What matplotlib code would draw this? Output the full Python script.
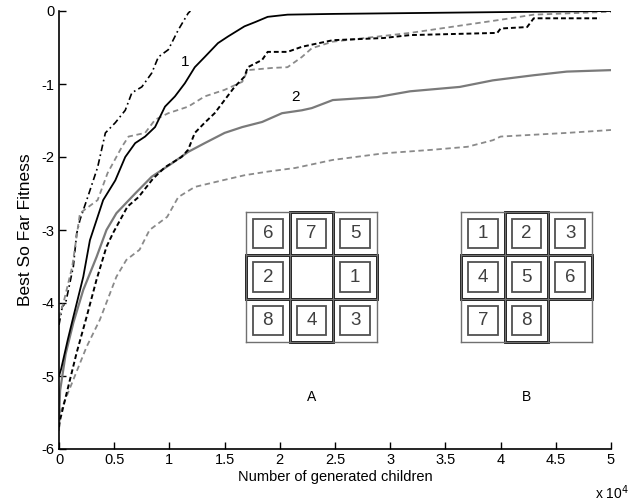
import matplotlib
matplotlib.use("Agg")
import matplotlib.pyplot as plt
from matplotlib.patches import Rectangle

plt.rcParams['font.family'] = ['Liberation Sans', 'DejaVu Sans']
plt.rcParams['axes.unicode_minus'] = False

# ---- data (x in units of 1e4 generated children) ----
dd_x = [0, 0.03, 0.06, 0.13, 0.16, 0.19, 0.26, 0.35, 0.42, 0.51, 0.6, 0.66, 0.75, 0.84, 0.9, 0.99, 1.08, 1.17, 1.19]
dd_y = [-4.3, -4.05, -4.0, -3.5, -3.05, -2.86, -2.55, -2.14, -1.67, -1.53, -1.36, -1.12, -1.04, -0.85, -0.63, -0.53, -0.26, -0.03, 0.0]

s1_x = [0, 0.02, 0.08, 0.13, 0.22, 0.28, 0.40, 0.51, 0.6, 0.69, 0.78, 0.87, 0.96, 1.05, 1.14, 1.23, 1.32, 1.44, 1.53, 1.68, 1.78, 1.89, 2.07, 2.48, 3.09, 4.0, 5.0]
s1_y = [-5.0, -4.9, -4.5, -4.19, -3.64, -3.14, -2.59, -2.32, -2.0, -1.81, -1.72, -1.59, -1.31, -1.17, -0.99, -0.77, -0.63, -0.44, -0.35, -0.21, -0.15, -0.08, -0.05, -0.04, -0.03, -0.015, 0.0]

gu_x = [0, 0.04, 0.12, 0.19, 0.35, 0.44, 0.57, 0.63, 0.78, 0.87, 0.99, 1.17, 1.32, 1.5, 1.66, 1.71, 1.93, 2.07, 2.2, 2.29, 2.48, 3.18, 4.0, 4.3, 5.0]
gu_y = [-4.2, -4.0, -3.5, -2.77, -2.59, -2.22, -1.86, -1.72, -1.67, -1.49, -1.4, -1.31, -1.17, -1.08, -0.97, -0.81, -0.78, -0.77, -0.63, -0.51, -0.42, -0.3, -0.12, -0.05, -0.01]

bd_x = [0, 0.01, 0.07, 0.16, 0.25, 0.34, 0.43, 0.49, 0.62, 0.72, 0.85, 0.96, 1.11, 1.17, 1.23, 1.32, 1.41, 1.5, 1.59, 1.68, 1.71, 1.84, 1.89, 2.07, 2.2, 2.48, 2.94, 3.18, 3.97, 4.0, 4.24, 4.3, 4.9]
bd_y = [-5.7, -5.6, -5.23, -4.68, -4.19, -3.68, -3.23, -3.04, -2.68, -2.55, -2.3, -2.14, -2.0, -1.9, -1.67, -1.53, -1.4, -1.22, -1.04, -0.9, -0.77, -0.67, -0.56, -0.56, -0.49, -0.4, -0.37, -0.33, -0.3, -0.24, -0.22, -0.1, -0.1]

s2_x = [0, 0.01, 0.06, 0.13, 0.22, 0.34, 0.43, 0.52, 0.69, 0.84, 1.02, 1.17, 1.32, 1.5, 1.66, 1.84, 2.02, 2.2, 2.29, 2.48, 2.88, 3.18, 3.63, 3.93, 4.3, 4.6, 5.0]
s2_y = [-5.6, -5.2, -4.7, -4.27, -3.82, -3.37, -3.0, -2.77, -2.5, -2.27, -2.09, -1.93, -1.81, -1.67, -1.59, -1.52, -1.4, -1.36, -1.33, -1.22, -1.18, -1.1, -1.04, -0.95, -0.88, -0.83, -0.81]

gl_x = [0, 0.01, 0.13, 0.25, 0.37, 0.52, 0.61, 0.73, 0.82, 0.98, 1.08, 1.23, 1.48, 1.68, 1.89, 2.14, 2.48, 2.94, 3.39, 3.7, 3.93, 4.0, 4.6, 5.0]
gl_y = [-5.75, -5.5, -5.05, -4.6, -4.23, -3.64, -3.41, -3.27, -3.0, -2.82, -2.55, -2.41, -2.32, -2.25, -2.2, -2.15, -2.04, -1.95, -1.9, -1.86, -1.77, -1.72, -1.67, -1.63]

x_ticks = [0, 0.5, 1, 1.5, 2, 2.5, 3, 3.5, 4, 4.5, 5]
x_tick_labels = ["0", "0.5", "1", "1.5", "2", "2.5", "3", "3.5", "4", "4.5", "5"]
y_ticks = [-6, -5, -4, -3, -2, -1, 0]
y_tick_labels = ["-6", "-5", "-4", "-3", "-2", "-1", "0"]

puzzle_A = [[6, 7, 5], [2, None, 1], [8, 4, 3]]
puzzle_B = [[1, 2, 3], [4, 5, 6], [7, 8, None]]

# ---- figure ----
W, H = 633, 504
fig = plt.figure(figsize=(W / 100, H / 100), dpi=100)
ax = fig.add_axes([59 / W, 1 - 449 / H, 552 / W, 438 / H])

ax.plot(dd_x, dd_y, color='black', lw=1.2, ls=(0, (4, 2, 1, 2)))
ax.plot(gu_x, gu_y, color='#8a8a8a', lw=1.3, ls=(0, (3, 2)))
ax.plot(gl_x, gl_y, color='#8a8a8a', lw=1.3, ls=(0, (3, 2)))
ax.plot(s2_x, s2_y, color='#7a7a7a', lw=1.6, ls='-')
ax.plot(bd_x, bd_y, color='black', lw=1.4, ls=(0, (2.5, 1.5)))
ax.plot(s1_x, s1_y, color='black', lw=1.3, ls='-')

ax.text(1.14, -0.70, "1", fontsize=11, ha='center', va='center')
ax.text(2.14, -1.18, "2", fontsize=11, ha='center', va='center')

ax.set_xlim(0, 5)
ax.set_ylim(-6, 0)
ax.set_xticks(x_ticks)
ax.set_xticklabels(x_tick_labels)
ax.set_yticks(y_ticks)
ax.set_yticklabels(y_tick_labels)
ax.tick_params(direction='in', length=5, width=1, labelsize=10.5, pad=3)
for side in ('top', 'right'):
    ax.spines[side].set_visible(False)
for side in ('left', 'bottom'):
    ax.spines[side].set_linewidth(1.2)
ax.set_xlabel("Number of generated children", fontsize=10.5, labelpad=2)
ax.set_ylabel("Best So Far Fitness", fontsize=12.5, labelpad=6)
fig.text(612 / W, 1 - 493 / H, "x 10$^4$", fontsize=10, ha='center', va='center')


def draw_puzzle(left_px, tiles, label):
    pax = fig.add_axes([left_px / W, 1 - 342 / H, 131 / W, 130 / H])
    pax.set_xlim(0, 3)
    pax.set_ylim(0, 3)
    pax.axis('off')
    for i in range(4):
        pax.plot([i, i], [0, 3], color='#707070', lw=1.0, clip_on=False)
        pax.plot([0, 3], [i, i], color='#707070', lw=1.0, clip_on=False)
    pax.add_patch(Rectangle((1, 0), 1, 3, fill=False, ec='black', lw=2.0, clip_on=False))
    pax.add_patch(Rectangle((0, 1), 3, 1, fill=False, ec='black', lw=2.0, clip_on=False))
    for r, row in enumerate(tiles):
        for c, v in enumerate(row):
            if v is None:
                continue
            y0 = 2 - r
            pax.add_patch(Rectangle((c + 0.16, y0 + 0.16), 0.68, 0.68, fill=False,
                                    ec='#505050', lw=1.3))
            pax.text(c + 0.5, y0 + 0.5, str(v), fontsize=13.5, color='#404040',
                     ha='center', va='center')
    fig.text((left_px + 65.5) / W, 1 - 397 / H, label, fontsize=10, ha='center', va='center')


draw_puzzle(246, puzzle_A, "A")
draw_puzzle(461, puzzle_B, "B")

fig.savefig("out.png", dpi=100)
